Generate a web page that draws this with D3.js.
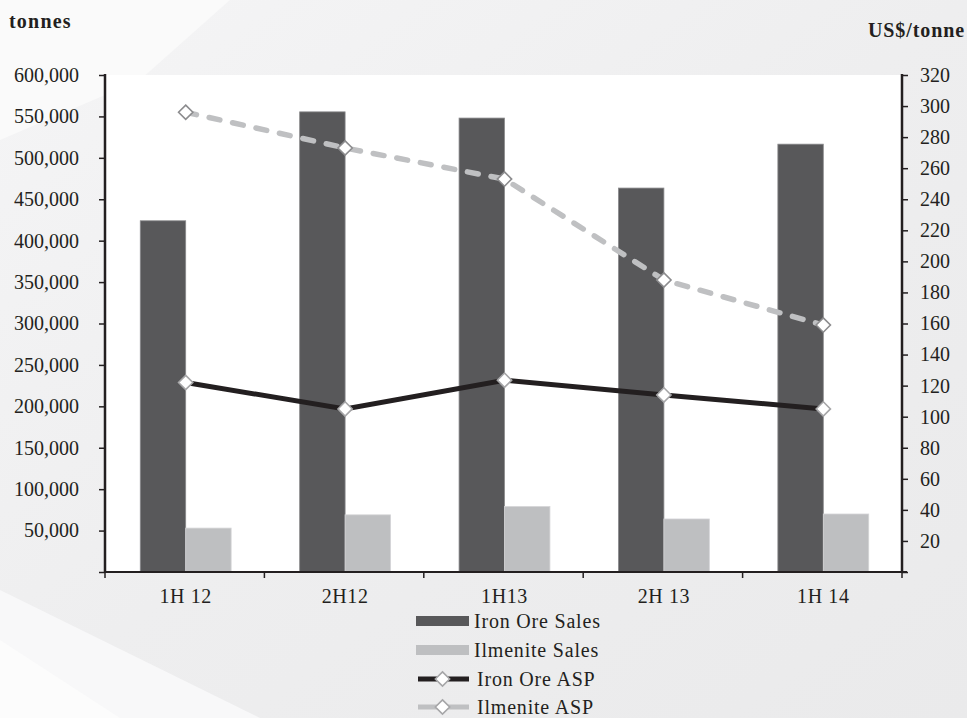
<!DOCTYPE html>
<html>
<head>
<meta charset="utf-8">
<script src="https://cdn.jsdelivr.net/npm/d3@7"></script>
<style>
  html, body { margin: 0; padding: 0; background: #fff; }
  svg { display: block; }
  text { font-family: "Palatino Linotype", "Book Antiqua", Palatino, "Liberation Serif", "Times New Roman", serif; fill: #231f20; }
</style>
</head>
<body>
<svg id="chart" width="967" height="718"></svg>
<script>
// ---- data ----
const categories = ["1H 12", "2H12", "1H13", "2H 13", "1H 14"];
const ironOreSales = [424000, 555500, 548000, 463500, 516500];
const ilmeniteSales = [53000, 69000, 79000, 64000, 70000];
const ironOreASP = [122, 105, 123.5, 114, 105];
const ilmeniteASP = [296, 273, 253, 188, 159];
const leftTicks = [50000, 100000, 150000, 200000, 250000, 300000, 350000, 400000, 450000, 500000, 550000, 600000];
const rightTicks = [20, 40, 60, 80, 100, 120, 140, 160, 180, 200, 220, 240, 260, 280, 300, 320];
const seriesNames = ["Iron Ore Sales", "Ilmenite Sales", "Iron Ore ASP", "Ilmenite ASP"];

const svg = d3.select("#chart");
const W = 967, H = 718;
const plot = { left: 105, right: 902, top: 75, bottom: 572 };

// ---- background ----
const defs = svg.append("defs");
const g1 = defs.append("linearGradient").attr("id", "bg").attr("x1", 0).attr("y1", 0).attr("x2", 1).attr("y2", 1);
g1.append("stop").attr("offset", "0%").attr("stop-color", "#f5f5f6");
g1.append("stop").attr("offset", "50%").attr("stop-color", "#eeeeef");
g1.append("stop").attr("offset", "100%").attr("stop-color", "#eaeaeb");
svg.append("rect").attr("width", W).attr("height", H).attr("fill", "url(#bg)");
svg.append("path").attr("d", "M0,0 L230,0 L140,80 L0,140 Z").attr("fill", "#fafafa");
svg.append("path").attr("d", "M0,590 L260,718 L0,718 Z").attr("fill", "#f8f8f9");
svg.append("path").attr("d", "M0,640 L120,718 L0,718 Z").attr("fill", "#fcfcfc");

// plot area
svg.append("rect").attr("x", plot.left).attr("y", plot.top)
  .attr("width", plot.right - plot.left).attr("height", plot.bottom - plot.top).attr("fill", "#fff");

// ---- scales ----
const x = d3.scaleBand().domain(categories).range([plot.left, plot.right]).paddingInner(0.43).paddingOuter(0.215);
const x1 = d3.scaleBand().domain(["iron", "ilm"]).range([0, x.bandwidth()]);
const yL = d3.scaleLinear().domain([0, 600000]).range([plot.bottom, plot.top]);
const yR = d3.scaleLinear().domain([0, 320]).range([plot.bottom, plot.top]);

const darkBar = "#58585a", lightBar = "#bebfc1";

// ---- bars ----
const barData = categories.map((c, i) => ({ c, iron: ironOreSales[i], ilm: ilmeniteSales[i] }));
const gb = svg.append("g");
barData.forEach(d => {
  gb.append("rect").attr("x", x(d.c) + x1("iron") + 1).attr("y", yL(d.iron))
    .attr("width", x1.bandwidth()).attr("height", yL(0) - yL(d.iron))
    .attr("fill", darkBar).attr("stroke", "#8a8a8c").attr("stroke-width", 0.8);
  gb.append("rect").attr("x", x(d.c) + x1("ilm") + 1).attr("y", yL(d.ilm))
    .attr("width", x1.bandwidth()).attr("height", yL(0) - yL(d.ilm))
    .attr("fill", lightBar).attr("stroke", "#d4d4d6").attr("stroke-width", 0.8);
});

// ---- axes ----
const axisColor = "#231f20";
const gx = svg.append("g").attr("transform", `translate(0,${plot.bottom})`);
gx.append("line").attr("x1", plot.left).attr("x2", plot.right + 5).attr("stroke", axisColor).attr("stroke-width", 2);
const bounds = d3.range(categories.length + 1).map(i => plot.left + i * x.step());
gx.selectAll(".xt").data(bounds).join("line")
  .attr("x1", d => d).attr("x2", d => d).attr("y1", 0).attr("y2", 6)
  .attr("stroke", axisColor).attr("stroke-width", 1.5);
gx.selectAll(".xl").data(categories).join("text")
  .attr("x", d => x(d) + x.bandwidth() / 2 + 1).attr("y", 31)
  .attr("text-anchor", "middle").attr("font-size", 20).attr("letter-spacing", 0.6).text(d => d);

const gyl = svg.append("g").attr("transform", `translate(${plot.left},0)`)
  .call(d3.axisLeft(yL).tickValues([0].concat(leftTicks)).tickSize(6).tickPadding(20)
    .tickFormat(d => d === 0 ? "" : d3.format(",")(d)));
const gyr = svg.append("g").attr("transform", `translate(${plot.right},0)`)
  .call(d3.axisRight(yR).tickValues([0].concat(rightTicks)).tickSize(6).tickPadding(12)
    .tickFormat(d => d === 0 ? "" : d));
[gyl, gyr].forEach(g => {
  g.select(".domain").remove();
  g.selectAll(".tick line").attr("stroke", axisColor).attr("stroke-width", 1.5);
  g.selectAll(".tick text").attr("font-size", 20).attr("fill", axisColor)
    .attr("font-family", "\"Palatino Linotype\", \"Book Antiqua\", Palatino, \"Liberation Serif\", serif");
});
svg.append("line").attr("x1", plot.left).attr("x2", plot.left).attr("y1", plot.top - 1).attr("y2", plot.bottom + 1)
  .attr("stroke", axisColor).attr("stroke-width", 2.5);
svg.append("line").attr("x1", plot.right).attr("x2", plot.right).attr("y1", plot.top - 1).attr("y2", plot.bottom + 1)
  .attr("stroke", axisColor).attr("stroke-width", 2.5);

// ---- lines ----
const cx = c => x(c) + x.bandwidth() / 2 + 1;
const line = d3.line().x(d => cx(d.c)).y(d => yR(d.v));
const ironPts = categories.map((c, i) => ({ c, v: ironOreASP[i] }));
const ilmPts = categories.map((c, i) => ({ c, v: ilmeniteASP[i] }));

svg.append("path").datum(ilmPts).attr("d", line).attr("fill", "none")
  .attr("stroke", "#bfc0c2").attr("stroke-width", 5.5).attr("stroke-linecap", "round")
  .attr("stroke-dasharray", "11,13");
svg.append("path").datum(ironPts).attr("d", line).attr("fill", "none")
  .attr("stroke", "#231f20").attr("stroke-width", 5);

const diamond = d3.symbol().type(d3.symbolDiamond2).size(130);
function markers(pts, stroke) {
  svg.append("g").selectAll("path").data(pts).join("path")
    .attr("transform", d => `translate(${cx(d.c)},${yR(d.v)})`)
    .attr("d", diamond).attr("fill", "#fff").attr("stroke", stroke).attr("stroke-width", 1.6);
}
markers(ilmPts, "#8c8c8e");
markers(ironPts, "#a6a6a8");

// ---- axis titles ----
svg.append("text").attr("x", 9).attr("y", 28).attr("font-size", 20).attr("letter-spacing", 1.2).attr("font-weight", "bold").text("tonnes");
svg.append("text").attr("x", 965).attr("y", 37).attr("text-anchor", "end").attr("font-size", 20).attr("letter-spacing", 0.9).attr("font-weight", "bold").text("US$/tonne");

// ---- legend ----
const lg = svg.append("g");
const rowY = [621, 650, 679, 707];
const sx0 = 416, sx1 = 469;
lg.append("rect").attr("x", sx0).attr("y", rowY[0] - 5).attr("width", sx1 - sx0).attr("height", 10).attr("fill", darkBar);
lg.append("rect").attr("x", sx0).attr("y", rowY[1] - 5).attr("width", sx1 - sx0).attr("height", 10).attr("fill", lightBar);
lg.append("line").attr("x1", sx0 + 2).attr("x2", sx1).attr("y1", rowY[2]).attr("y2", rowY[2]).attr("stroke", "#231f20").attr("stroke-width", 5);
lg.append("path").attr("transform", `translate(${(sx0 + sx1) / 2},${rowY[2]})`).attr("d", diamond).attr("fill", "#fff").attr("stroke", "#a6a6a8").attr("stroke-width", 1.6);
lg.append("line").attr("x1", sx0 + 2).attr("x2", sx1).attr("y1", rowY[3]).attr("y2", rowY[3]).attr("stroke", "#bfc0c2").attr("stroke-width", 5);
lg.append("path").attr("transform", `translate(${(sx0 + sx1) / 2},${rowY[3]})`).attr("d", diamond).attr("fill", "#fff").attr("stroke", "#a6a6a8").attr("stroke-width", 1.6);
seriesNames.forEach((n, i) => {
  lg.append("text").attr("x", i < 2 ? 474 : 477).attr("y", rowY[i] + 7).attr("font-size", 20).attr("letter-spacing", 0.8).text(n);
});
</script>
</body>
</html>
